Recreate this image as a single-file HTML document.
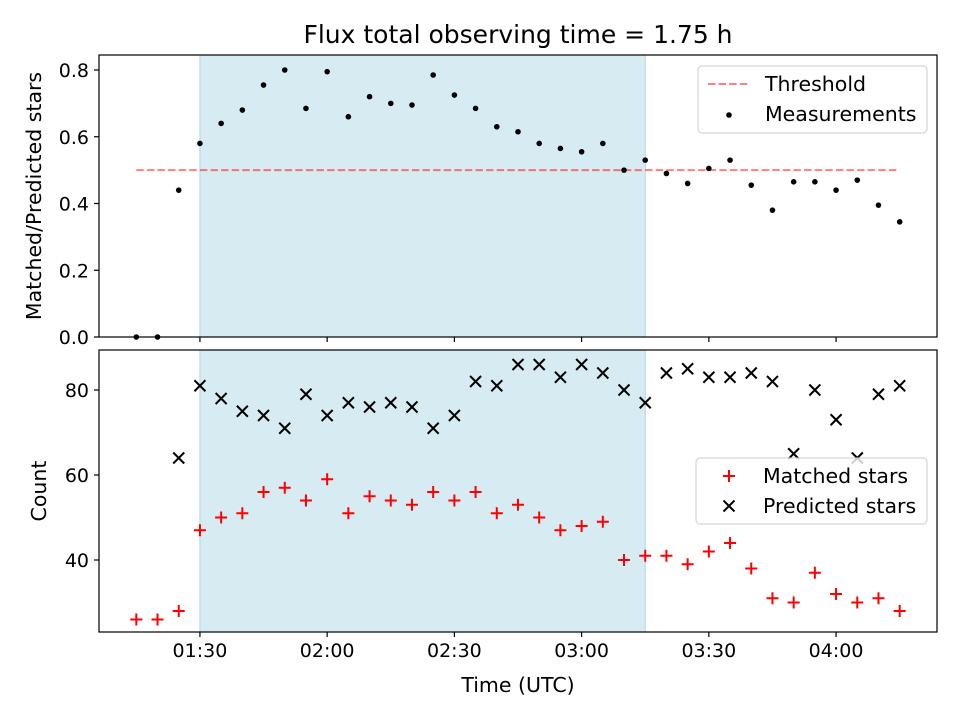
<!DOCTYPE html>
<html><head><meta charset="utf-8"><style>
body{margin:0;background:#fff}
svg{font-family:"DejaVu Sans","Liberation Sans",sans-serif}
</style></head><body>
<svg id="chart" width="960" height="720" viewBox="0 0 960 720" xmlns="http://www.w3.org/2000/svg">
<rect width="960" height="720" fill="#fff"/>
<text x="518" y="43" font-size="25" text-anchor="middle">Flux total observing time = 1.75 h</text>
<g id="topPanel"></g><g id="botPanel"></g>
</svg>
<script>
const times = ["01:15","01:20","01:25","01:30","01:35","01:40","01:45","01:50","01:55","02:00","02:05","02:10","02:15","02:20","02:25","02:30","02:35","02:40","02:45","02:50","02:55","03:00","03:05","03:10","03:15","03:20","03:25","03:30","03:35","03:40","03:45","03:50","03:55","04:00","04:05","04:10","04:15"];
const ratio = [0.0,0.0,0.44,0.58,0.64,0.68,0.755,0.80,0.685,0.795,0.66,0.72,0.70,0.695,0.785,0.725,0.685,0.63,0.615,0.58,0.565,0.555,0.58,0.50,0.53,0.49,0.46,0.505,0.53,0.455,0.38,0.465,0.465,0.44,0.47,0.395,0.345];
const matched = [26,26,28,47,50,51,56,57,54,59,51,55,54,53,56,54,56,51,53,50,47,48,49,40,41,41,39,42,44,38,31,30,37,32,30,31,28];
const predTimes = times.slice(2);
const predicted = [64,81,78,75,74,71,79,74,77,76,77,76,71,74,82,81,86,86,83,86,84,80,77,84,85,83,83,84,82,65,80,73,64,79,81];
const threshold = 0.5;
const shadeStart = "01:30", shadeEnd = "03:15";
const xTicks = ["01:30","02:00","02:30","03:00","03:30","04:00"];
const topTicks = [0.0,0.2,0.4,0.6,0.8];
const botTicks = [40,60,80];

const NS="http://www.w3.org/2000/svg";
const L=99,R=937;
const FS=19, LS=20.5;
const mins=t=>{const [h,m]=t.split(":").map(Number);return h*60+m;};
const xMin=mins("01:30")-23.8, xMax=mins("01:30")+173.8;
const X=t=>L+(mins(t)-xMin)/(xMax-xMin)*(R-L);
const TT=55,TB=337, tMin=0, tMax=(337-55)/333.75;
const YT=v=>TB-(v-tMin)/(tMax-tMin)*(TB-TT);
const BT=350,BB=632, bMin=40-72/4.25, bMax=80+40/4.25;
const YB=v=>BB-(v-bMin)/(bMax-bMin)*(BB-BT);
function el(tag,attrs,parent,text){const e=document.createElementNS(NS,tag);for(const k in attrs)e.setAttribute(k,attrs[k]);if(text!==undefined)e.textContent=text;parent.appendChild(e);return e;}
const topG=document.getElementById('topPanel'), botG=document.getElementById('botPanel');

function panel(g,T,B,name){
  const s=el('rect',{x:X(shadeStart),y:T,width:X(shadeEnd)-X(shadeStart),height:B-T,fill:'#add8e6','fill-opacity':0.5,stroke:'#add8e6'},g);
  
  
}
panel(topG,TT,TB,'top');panel(botG,BT,BB,'bottom');

const th=el('line',{x1:X("01:15"),x2:X("04:15"),y1:YT(threshold),y2:YT(threshold),stroke:'#ff0000','stroke-opacity':0.5,'stroke-width':2,'stroke-dasharray':'7.4,3.2'},topG);


ratio.forEach((v,i)=>{const c=el('circle',{cx:X(times[i]),cy:YT(v),r:2.8,fill:'#000'},topG);

});
matched.forEach((v,i)=>{const x=X(times[i]),y=YB(v);const p=el('path',{d:`M${x-6},${y}H${x+6}M${x},${y-6}V${y+6}`,stroke:'#ff0000','stroke-width':2},botG);

});
predicted.forEach((v,i)=>{const x=X(predTimes[i]),y=YB(v);const p=el('path',{d:`M${x-5.5},${y-5.5}L${x+5.5},${y+5.5}M${x-5.5},${y+5.5}L${x+5.5},${y-5.5}`,stroke:'#000','stroke-width':2},botG);

});

[[topG,TT,TB],[botG,BT,BB]].forEach(([g,T,B],k)=>{
  const f=el('rect',{x:L,y:T,width:R-L,height:B-T,fill:'none',stroke:'#000','stroke-width':1.2},g);
  
  
  xTicks.forEach(t=>{el('line',{x1:X(t),x2:X(t),y1:B,y2:B+5,stroke:'#000','stroke-width':1.2},g);
    if(k){const tx=el('text',{x:X(t),y:B+25,'font-size':FS,'text-anchor':'middle'},g,t);
    
    }});
});
topTicks.forEach(v=>{el('line',{x1:L-5,x2:L,y1:YT(v),y2:YT(v),stroke:'#000','stroke-width':1.2},topG);
 const t=el('text',{x:L-10,y:YT(v)+7,'font-size':FS,'text-anchor':'end'},topG,v.toFixed(1));
 
 });
botTicks.forEach(v=>{el('line',{x1:L-5,x2:L,y1:YB(v),y2:YB(v),stroke:'#000','stroke-width':1.2},botG);
 const t=el('text',{x:L-10,y:YB(v)+7,'font-size':FS,'text-anchor':'end'},botG,String(v));
 
 });
const yl1=el('text',{x:0,y:0,'font-size':LS,'text-anchor':'middle',transform:`translate(41,${(TT+TB)/2}) rotate(-90)`},topG,'Matched/Predicted stars');


const yl2=el('text',{x:0,y:0,'font-size':LS,'text-anchor':'middle',transform:`translate(46,${(BT+BB)/2}) rotate(-90)`},botG,'Count');


const xl=el('text',{x:518,y:692,'font-size':LS,'text-anchor':'middle'},botG,'Time (UTC)');



const lg1=el('g',{},topG);


el('rect',{x:698,y:66,width:229,height:67,rx:4,fill:'#fff','fill-opacity':0.8,stroke:'#ccc'},lg1);
el('line',{x1:708,x2:750,y1:84,y2:84,stroke:'#ff0000','stroke-opacity':0.5,'stroke-width':2,'stroke-dasharray':'7.4,3.2'},lg1);
el('text',{x:765,y:91,'font-size':LS},lg1,'Threshold');
el('circle',{cx:729,cy:115,r:2.8,fill:'#000'},lg1);
el('text',{x:765,y:121,'font-size':LS},lg1,'Measurements');
const lg2=el('g',{},botG);


el('rect',{x:696,y:458,width:231,height:66,rx:4,fill:'#fff','fill-opacity':0.8,stroke:'#ccc'},lg2);
el('path',{d:'M723,476H735M729,470V482',stroke:'#ff0000','stroke-width':2},lg2);
el('text',{x:763,y:483,'font-size':LS},lg2,'Matched stars');
el('path',{d:'M723.5,500.5L734.5,511.5M723.5,511.5L734.5,500.5',stroke:'#000','stroke-width':2},lg2);
el('text',{x:763,y:513,'font-size':LS},lg2,'Predicted stars');
</script>
</body></html>
